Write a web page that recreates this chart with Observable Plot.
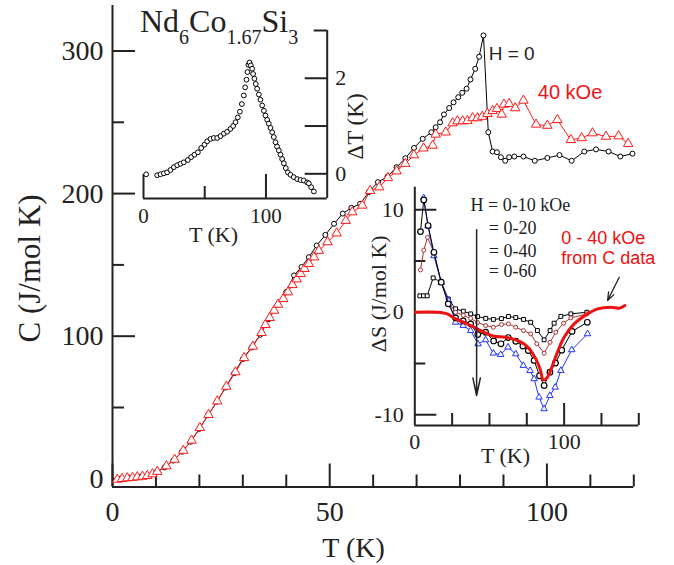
<!DOCTYPE html>
<html>
<head>
<meta charset="utf-8">
<script src="https://cdn.jsdelivr.net/npm/d3@7"></script>
<script src="https://cdn.jsdelivr.net/npm/@observablehq/plot@0.6"></script>
<style>
  html, body { margin: 0; padding: 0; background: #fff; }
  #wrap { position: relative; width: 674px; height: 565px; overflow: hidden; background: #fff; }
  #title { position: absolute; left: 140px; top: 5px; font-family: "Liberation Serif", serif; font-size: 32px; line-height: 32px; color: #222; white-space: nowrap; }
  #title sub { font-size: 20px; vertical-align: -12px; line-height: 0; }
</style>
</head>
<body>
<div id="wrap"></div>
<script>
// ---------- Main plot: C vs T ----------
const T_H0 = [2, 4, 6, 8, 10, 12, 14, 16, 18, 20, 22, 24, 26, 28, 30, 32, 34, 36, 38, 40, 41.8, 43.5, 45.2, 47, 49, 51, 53, 55, 57, 59, 61.1, 63.3, 65.4, 67.4, 69.4, 71.4, 73.4, 74.4, 75.4, 76.3, 77.5, 78.5, 79.6, 80.5, 81.5, 82.4, 83.5, 84.4, 85.4, 86.5, 87.5, 88.5, 89.4, 90.4, 91.3, 92.5, 94.6, 97.2, 100.1, 102.9, 105.7, 108.6, 111.3, 114.2, 116.9, 119.7];
const C_H0 = [0.3, 0.8, 1.5, 2.5, 4.5, 8, 12.8, 19, 26, 35, 44.5, 54, 64, 74, 84, 92, 101, 112, 122, 131, 142.6, 148.5, 155.4, 163.6, 171, 178.8, 186, 190, 192.8, 201, 208, 212, 218.5, 224.8, 232, 238.4, 243, 246.5, 250, 255.5, 260, 264, 267.6, 270.7, 273.5, 280, 287.5, 296, 310.9, 243, 229.5, 229, 225.5, 223, 225.5, 226, 226, 223, 225, 227, 223, 229.5, 231, 229.5, 226, 228];

const T_H40 = [1.1, 2.2, 3.4, 4.6, 5.7, 6.9, 8.0, 9.2, 10.3, 12.4, 14.3, 16.3, 18.2, 20.1, 22.1, 24.1, 26.2, 28.3, 30.3, 32.3, 34.3, 35.2, 36.2, 37.2, 38.1, 39.3, 40.4, 41.4, 42.4, 43.3, 44.2, 45.2, 46.4, 47.5, 49.5, 51.6, 53.7, 55.2, 57.5, 59.3, 61.4, 63.4, 65.4, 67.4, 69.4, 71.6, 73.7, 74.4, 76.7, 78.3, 79.4, 80.6, 81.7, 82.9, 84, 85.1, 86.3, 87.5, 88.5, 89.6, 90.1, 91.3, 92.7, 94.6, 97.5, 100.1, 102.4, 105.5, 108, 110.5, 113.6, 116.5, 118.7];
const C_H40 = [-0.5, 0, 0.5, 0.8, 1.2, 1.6, 2.1, 3.3, 5, 8.9, 13.5, 19.8, 26.9, 35.8, 44.9, 54.4, 64.7, 74.8, 84.8, 92.8, 102.4, 108, 112.9, 118, 122.2, 126.2, 130.9, 136, 140, 143.8, 147.3, 150.8, 155.4, 160, 166, 172.2, 181, 187, 191.7, 202, 204.5, 211, 215.7, 221, 227, 231.8, 233.7, 241.5, 243, 249.4, 250.8, 250.8, 251, 253, 253, 254, 256, 258, 259.5, 255.5, 262.5, 263, 260, 265.3, 248.5, 247.7, 251.7, 237.7, 239, 242.4, 240, 240.3, 235];

const mainXMajor = [0, 50, 100];
const mainXMinor = [10, 20, 30, 40, 60, 70, 80, 90, 110, 120];
const mainYMajor = [0, 100, 200, 300];
const mainYMinor = [50, 150, 250];

// ---------- Inset 1: ΔT vs T ----------
const T_dT = [2.2, 11.2, 13.9, 16.6, 19.3, 22.0, 24.8, 27.5, 30.2, 32.9, 36.2, 38.9, 41.6, 44.4, 47.1, 49.8, 52.0, 54.7, 57.4, 60.2, 62.9, 65.6, 68.3, 71.0, 73.2, 75.1, 77.0, 78.7, 80.3, 81.9, 83.0, 84.1, 84.9, 85.7, 86.6, 87.6, 88.7, 89.5, 90.6, 91.7, 92.8, 94.2, 95.5, 96.9, 98.3, 99.6, 101.0, 102.3, 103.7, 105.1, 106.4, 107.8, 109.1, 110.5, 111.9, 113.2, 114.6, 116.2, 117.9, 120.0, 122.7, 125.5, 128.2, 130.9, 133.6, 135.0, 136.9, 139.1];
const dT = [-0.01, -0.03, -0.01, 0.01, 0.03, 0.08, 0.14, 0.18, 0.21, 0.24, 0.29, 0.35, 0.40, 0.45, 0.54, 0.61, 0.68, 0.73, 0.75, 0.75, 0.79, 0.84, 0.88, 0.94, 1.0, 1.08, 1.18, 1.30, 1.46, 1.64, 1.81, 1.97, 2.13, 2.28, 2.33, 2.27, 2.20, 2.09, 1.99, 1.88, 1.78, 1.66, 1.55, 1.43, 1.32, 1.22, 1.13, 1.05, 0.96, 0.87, 0.77, 0.66, 0.57, 0.49, 0.40, 0.31, 0.22, 0.12, 0.03, -0.02, -0.07, -0.11, -0.13, -0.14, -0.18, -0.20, -0.28, -0.37];
const in1XMajor = [0, 100];
const in1XMinor = [50];
const in1YMajor = [0, 1, 2];
const in1YMinor = [3];
const in1YLabels = [0, 2];

// ---------- Inset 2: ΔS vs T ----------
const T_s10 = [3.4, 5.8, 8.3, 12.3, 17.7, 22.4, 27.3, 32.5, 37.4, 42, 47.5, 52.6, 58, 62.7, 67.6, 72.8, 77.6, 82.1, 86.6, 90.6, 93.3, 97.8, 104.5, 115.2];
const S_s10 = [1.6, 1.6, 1.6, 3.35, 2.93, 1.3, 0.33, 0.1, -0.16, -0.42, -0.6, -0.7, -0.62, -0.42, -0.52, -0.7, -0.98, -1.79, -2.69, -1.79, -1.07, -0.4, -0.16, 0];
const T_s20 = [3.8, 6.0, 8.5, 12.8, 17.7, 22.4, 27.3, 32.5, 37.4, 42, 47.5, 52.6, 58, 62.7, 67.6, 72.8, 77.6, 81.7, 86.6, 90.6, 94.4, 99.6, 104.5, 115.2];
const S_s20 = [4.13, 6.05, 7.3, 5.85, 2.93, 1.0, 0, -0.3, -0.6, -1.0, -1.3, -1.46, -1.2, -1.13, -1.46, -1.79, -2.11, -3.08, -4.0, -2.93, -1.95, -1.07, -0.55, -0.16];
const T_s40 = [3.8, 6.0, 8.9, 12.8, 17.7, 22.4, 27.3, 32.4, 37.4, 42.2, 47.4, 52.8, 57.7, 62.6, 67.6, 72.4, 76, 79.9, 83.5, 86.6, 90.5, 94.2, 98.4, 105.3, 115.5];
const S_s40 = [7.87, 10.96, 8.46, 5.85, 2.93, 0.82, -0.55, -0.85, -1.13, -2.18, -1.95, -2.8, -3.08, -2.47, -2.83, -3.3, -3.74, -4.7, -6.2, -7.15, -5.85, -4.95, -3.7, -1.87, -0.98];
const T_s60 = [6.0, 8.9, 12.8, 17.7, 22.8, 27.3, 32.4, 37.4, 42.3, 47.4, 52.6, 57.5, 62.4, 67.6, 72.7, 77.2, 79.9, 83.2, 86.6, 90.4, 94, 97.8, 105.1, 115.7];
const S_s60 = [11.15, 8.4, 5.5, 2.9, 1.1, -0.98, -1.3, -1.79, -3.09, -2.7, -4.0, -4.13, -3.41, -4.07, -5.2, -5.69, -6.5, -8.29, -9.43, -8.13, -7.32, -5.69, -3.67, -2.11];
const T_fromC = [0.4, 15, 21.7, 27.3, 32.9, 39.6, 46.3, 53, 60.9, 67.6, 73.2, 77.6, 81, 83.9, 86.1, 88.8, 92.2, 95.5, 100, 106.7, 115.7, 122.4, 131.3, 136.9, 140.7];
const S_fromC = [0, 0, -0.16, -0.65, -0.98, -1.46, -1.95, -2.34, -2.44, -2.7, -3.09, -3.74, -4.55, -5.53, -6.6, -6.34, -5.2, -3.9, -2.44, -1.14, -0.16, 0.33, 0.49, 0.39, 0.65];
const in2XMajor = [100];
const in2XMinor = [25, 50, 75, 125, 150];
const in2XLabels = [0, 100];
const in2YMajor = [-10, 0, 10];
const in2YMinor = [-5, 5];
const in2YLabels = [-10, 0, 10];
const in2Legend = ["H = 0-10 kOe", "= 0-20", "= 0-40", "= 0-60"];

// ---------- helpers ----------
const SERIF = "Liberation Serif";
const SANS = "Liberation Sans";
const INK = "#222";
const zip = (xs, ys, kx, ky) => xs.map((x, i) => ({[kx]: x, [ky]: ys[i]}));
const upTicks = (vals, base, len) => Plot.ruleX(vals, {x: d => d, y1: base, y2: base, insetTop: -len, strokeWidth: 2, stroke: INK});
const rightTicks = (vals, base, len) => Plot.ruleY(vals, {y: d => d, x1: base, x2: base, insetRight: -len, strokeWidth: 2, stroke: INK});
const leftTicks = (vals, base, len) => Plot.ruleY(vals, {y: d => d, x1: base, x2: base, insetLeft: -len, strokeWidth: 2, stroke: INK});
const label = (txt, opts) => Plot.text([txt], {text: d => d, textAnchor: "middle", lineAnchor: "middle", fontFamily: SERIF, fill: INK, ...opts});

const wrap = document.getElementById("wrap");
function place(svg, left, top) {
  svg.style.position = "absolute";
  svg.style.left = left + "px";
  svg.style.top = top + "px";
  svg.style.maxWidth = "none";
  wrap.appendChild(svg);
}

// ---------- main ----------
const h0 = zip(T_H0, C_H0, "T", "C");
const h40 = zip(T_H40, C_H40, "T", "C");
const yMinMain = -5.75, yMaxMain = 331.9;

const mainPlot = Plot.plot({
  width: 674, height: 565,
  marginLeft: 112, marginRight: 40.7, marginTop: 5, marginBottom: 78.5,
  x: {domain: [0, 120]},
  y: {domain: [yMinMain, yMaxMain]},
  style: {background: "transparent", color: INK, fontFamily: SERIF, overflow: "visible"},
  marks: [
    Plot.ruleY([yMinMain], {strokeWidth: 2, stroke: INK}),
    Plot.ruleX([0], {strokeWidth: 2, stroke: INK}),
    upTicks(mainXMajor, yMinMain, 23),
    upTicks(mainXMinor, yMinMain, 12),
    rightTicks(mainYMajor, 0, 23),
    rightTicks(mainYMinor, 0, 12),
    Plot.axisX({ticks: mainXMajor, tickSize: 0, tickPadding: 14, fontSize: 28, fontFamily: SERIF, label: null, tickFormat: d => String(d)}),
    Plot.axisY({ticks: mainYMajor, tickSize: 0, tickPadding: 9, fontSize: 28, fontFamily: SERIF, label: null, tickFormat: d => String(d)}),
    Plot.line(h0, {x: "T", y: "C", stroke: "black", strokeWidth: 1}),
    Plot.dot(h0, {x: "T", y: "C", r: 2.5, stroke: "black", fill: "white", strokeWidth: 1}),
    Plot.line(h40, {x: "T", y: "C", stroke: "#ff1a1a", strokeWidth: 1}),
    Plot.dot(h40, {x: "T", y: "C", symbol: "triangle", r: 3.5, stroke: "#ff1a1a", fill: "white", strokeWidth: 1}),
    Plot.text(["H = 0"], {text: d => d, x: 86.6, y: 293.8, textAnchor: "start", lineAnchor: "bottom", fontFamily: SANS, fontSize: 19, fill: INK}),
    Plot.text(["40 kOe"], {text: d => d, x: 97.9, y: 266, textAnchor: "start", lineAnchor: "bottom", fontFamily: SANS, fontSize: 20, fill: "#f01515"}),
    label("C (J/mol K)", {x: -18.9, y: 147.5, rotate: -90, fontSize: 31}),
    label("T (K)", {x: 55.5, y: -48.2, fontSize: 28})
  ]
});
place(mainPlot, 0, 0);

// ---------- inset 1 ----------
const dtData = zip(T_dT, dT, "T", "dT");
const y1Min = -0.517, y1Max = 3.0;
const inset1 = Plot.plot({
  width: 280, height: 240,
  marginLeft: 43, marginRight: 53.3, marginTop: 30, marginBottom: 42,
  x: {domain: [0, 150]},
  y: {domain: [y1Min, y1Max]},
  style: {background: "transparent", color: INK, fontFamily: SERIF, overflow: "visible"},
  marks: [
    Plot.ruleY([y1Min], {strokeWidth: 2, stroke: INK}),
    Plot.ruleX([150], {strokeWidth: 2, stroke: INK}),
    upTicks(in1XMajor, y1Min, 24),
    upTicks(in1XMinor, y1Min, 12),
    leftTicks(in1YMajor, 150, 22),
    leftTicks(in1YMinor, 150, 13),
    Plot.axisX({ticks: in1XMajor, tickSize: 0, tickPadding: 10, fontSize: 21, fontFamily: SERIF, label: null, tickFormat: d => String(d)}),
    Plot.axisY({anchor: "right", ticks: in1YLabels, tickSize: 0, tickPadding: 8, fontSize: 22, fontFamily: SERIF, label: null, tickFormat: d => String(d)}),
    Plot.dot(dtData, {x: "T", y: "dT", r: 2.4, stroke: "black", fill: "white", strokeWidth: 1}),
    label("ΔT (K)", {x: 173.1, y: 0.99, rotate: -90, fontSize: 23}),
    label("T (K)", {x: 57.2, y: -1.27, fontSize: 22})
  ]
});
place(inset1, 100, 0);

// ---------- inset 2 ----------
const s10 = zip(T_s10, S_s10, "T", "S");
const s20 = zip(T_s20, S_s20, "T", "S");
const s40 = zip(T_s40, S_s40, "T", "S");
const s60 = zip(T_s60, S_s60, "T", "S");
const sC = zip(T_fromC, S_fromC, "T", "S");
const y2Min = -11.05, y2Max = 12.2;
const BROWN = "#a83232", BLUE = "#2233ff", RED = "#ee1111";
const inset2 = Plot.plot({
  width: 304, height: 290,
  marginLeft: 44.3, marginRight: 35.7, marginTop: 6.7, marginBottom: 45,
  x: {domain: [0, 150]},
  y: {domain: [y2Min, y2Max]},
  style: {background: "transparent", color: INK, fontFamily: SERIF, overflow: "visible"},
  marks: [
    Plot.ruleY([y2Min], {strokeWidth: 2, stroke: INK}),
    Plot.ruleX([0], {strokeWidth: 2, stroke: INK}),
    upTicks(in2XMajor, y2Min, 22),
    upTicks(in2XMinor, y2Min, 12),
    rightTicks(in2YMajor, 0, 22),
    rightTicks(in2YMinor, 0, 11),
    Plot.axisX({ticks: in2XLabels, tickSize: 0, tickPadding: 8, fontSize: 22, fontFamily: SERIF, label: null, tickFormat: d => String(d)}),
    Plot.axisY({ticks: in2YLabels, tickSize: 0, tickPadding: 11, fontSize: 22, fontFamily: SERIF, label: null, tickFormat: d => String(d)}),
    Plot.line(s10, {x: "T", y: "S", stroke: "black", strokeWidth: 1}),
    Plot.dot(s10, {x: "T", y: "S", symbol: "square", r: 2.2, stroke: "black", fill: "white", strokeWidth: 1}),
    Plot.line(s20, {x: "T", y: "S", stroke: BROWN, strokeWidth: 1}),
    Plot.dot(s20, {x: "T", y: "S", r: 2, stroke: BROWN, fill: "white", strokeWidth: 1}),
    Plot.line(s60, {x: "T", y: "S", stroke: BLUE, strokeWidth: 1}),
    Plot.dot(s60, {x: "T", y: "S", symbol: "triangle", r: 2.4, stroke: BLUE, fill: "white", strokeWidth: 1}),
    Plot.line(s40, {x: "T", y: "S", stroke: "black", strokeWidth: 1}),
    Plot.dot(s40, {x: "T", y: "S", r: 2.8, stroke: "black", fill: "white", strokeWidth: 1.2}),
    Plot.line(sC, {x: "T", y: "S", stroke: RED, strokeWidth: 3, curve: "catmull-rom"}),
    Plot.arrow([0], {x1: 41.4, y1: 8.05, x2: 41.4, y2: -8.13, stroke: INK, strokeWidth: 1.5, headLength: 18, headAngle: 24}),
    Plot.arrow([0], {x1: 136.9, y1: 3.41, x2: 129.1, y2: 1.14, stroke: INK, strokeWidth: 1.3, headLength: 10, headAngle: 40}),
    Plot.text([in2Legend[0]], {text: d => d, x: 37.3, y: 9.85, textAnchor: "start", lineAnchor: "bottom", fontFamily: SERIF, fontSize: 18, fill: INK}),
    Plot.text([in2Legend[1]], {text: d => d, x: 49.6, y: 7.64, textAnchor: "start", lineAnchor: "bottom", fontFamily: SERIF, fontSize: 18, fill: INK}),
    Plot.text([in2Legend[2]], {text: d => d, x: 49.6, y: 5.43, textAnchor: "start", lineAnchor: "bottom", fontFamily: SERIF, fontSize: 18, fill: INK}),
    Plot.text([in2Legend[3]], {text: d => d, x: 49.6, y: 3.41, textAnchor: "start", lineAnchor: "bottom", fontFamily: SERIF, fontSize: 18, fill: INK}),
    Plot.text(["0 - 40 kOe"], {text: d => d, x: 98.1, y: 6.67, textAnchor: "start", lineAnchor: "bottom", fontFamily: SANS, fontSize: 18, fill: RED}),
    Plot.text(["from C data"], {text: d => d, x: 98.1, y: 4.72, textAnchor: "start", lineAnchor: "bottom", fontFamily: SANS, fontSize: 18, fill: RED}),
    label("ΔS (J/mol K)", {x: -24.3, y: 1.8, rotate: -90, fontSize: 22}),
    label("T (K)", {x: 60.7, y: -13.98, fontSize: 22})
  ]
});
place(inset2, 370, 180);

// ---------- title ----------
const title = document.createElement("div");
title.id = "title";
title.innerHTML = "Nd<sub>6</sub>Co<sub>1.67</sub>Si<sub>3</sub>";
wrap.appendChild(title);
</script>
</body>
</html>
